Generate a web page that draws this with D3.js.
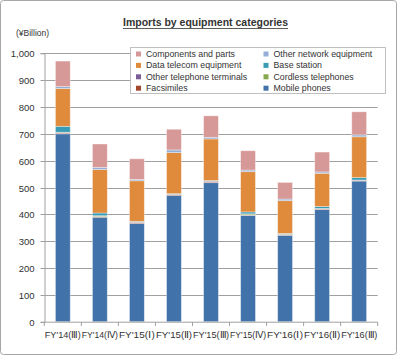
<!DOCTYPE html>
<html><head><meta charset="utf-8">
<script src="https://cdn.jsdelivr.net/npm/d3@7"></script>
<style>body{margin:0;background:#fff}svg text{font-family:"Liberation Sans",Arial,sans-serif;fill:#333}</style>
</head><body>
<svg id="c" width="397" height="355"></svg>
<script>
const categories = ["FY'14(Ⅲ)","FY'14(Ⅳ)","FY'15(Ⅰ)","FY'15(Ⅱ)","FY'15(Ⅲ)","FY'15(Ⅳ)","FY'16(Ⅰ)","FY'16(Ⅱ)","FY'16(Ⅲ)"];
const mobilePhones = [700, 389, 366, 470, 518, 396, 322, 418, 524];
const facsimiles = [3, 3, 3, 3, 3, 1, 1, 2, 2];
const cordlessTelephones = [2, 2, 1, 1, 1, 4, 3, 1, 1];
const otherTelephoneTerminals = [1, 1, 2, 1, 2, 1, 1, 1, 1];
const baseStation = [22, 10, 2, 2, 2, 7, 2, 7, 9];
const dataTelecom = [141, 162, 151, 153, 155, 150, 122, 124, 152];
const otherNetwork = [7, 8, 5, 10, 6, 6, 6, 5, 7];
const components = [95, 87, 77, 77, 80, 72, 62, 74, 86];
const yTicks = [0,100,200,300,400,500,600,700,800,900,1000];

const series = [
  {name:"Mobile phones", values:mobilePhones, color:"#4172AA"},
  {name:"Facsimiles", values:facsimiles, color:"#A3472F"},
  {name:"Cordless telephones", values:cordlessTelephones, color:"#84A84E"},
  {name:"Other telephone terminals", values:otherTelephoneTerminals, color:"#7A5C96"},
  {name:"Base station", values:baseStation, color:"#3A9BB5"},
  {name:"Data telecom equipment", values:dataTelecom, color:"#E08A3C"},
  {name:"Other network equipment", values:otherNetwork, color:"#95AFD6"},
  {name:"Components and parts", values:components, color:"#D69997"}
];
const legendOrder = ["Components and parts","Other network equipment","Data telecom equipment","Base station","Other telephone terminals","Cordless telephones","Facsimiles","Mobile phones"];

const svg = d3.select("#c");
svg.append("rect").attr("x",0.5).attr("y",0.5).attr("width",396).attr("height",354).attr("rx",3)
  .attr("fill","#fff").attr("stroke","#a6a6a6");

const x = d3.scaleBand().domain(categories).range([44.3, 377.7]).paddingInner(0.6).paddingOuter(0.3);
const y = d3.scaleLinear().domain([0,1000]).range([321.7, 53.3]);

// gridlines
svg.append("g").selectAll("line").data(yTicks.slice(1)).join("line")
  .attr("x1",44.3).attr("x2",377.7).attr("y1",d=>Math.round(y(d))+0.5).attr("y2",d=>Math.round(y(d))+0.5)
  .attr("stroke","#a0a0a0").attr("stroke-width",1);

// y axis
const yAxis = svg.append("g").attr("transform","translate(44.5,0)")
  .call(d3.axisLeft(y).tickValues(yTicks).tickFormat(d3.format(",")).tickSize(4).tickPadding(6));
yAxis.select(".domain").attr("stroke","#a0a0a0");
yAxis.selectAll(".tick line").attr("stroke","#a0a0a0");
yAxis.selectAll("text").attr("font-size","9.5px").attr("fill","#333");
yAxis.selectAll(".tick").attr("transform",d=>`translate(0,${Math.round(y(d))+0.5})`);

// stacked bars
const rows = categories.map((c,i)=>{const o={cat:c}; series.forEach(s=>o[s.name]=s.values[i]); return o;});
const stack = d3.stack().keys(series.map(s=>s.name))(rows);
svg.append("g").selectAll("g").data(stack).join("g")
  .attr("fill",(d,i)=>series[i].color)
  .selectAll("rect").data(d=>d).join("rect")
  .attr("x",d=>x(d.data.cat)).attr("width",x.bandwidth())
  .attr("y",d=>y(d[1])).attr("height",d=>y(d[0])-y(d[1]))
  .attr("stroke","#ffffff").attr("stroke-opacity",0.45).attr("stroke-width",0.8);

// x axis
const xg = svg.append("g");
xg.append("line").attr("x1",44.3).attr("x2",377.7).attr("y1",322.2).attr("y2",322.2).attr("stroke","#a0a0a0");
const bounds = d3.range(categories.length+1).map(i=>x.range()[0]+i*x.step());
xg.selectAll("line.t").data(bounds).join("line").attr("class","t")
  .attr("x1",d=>d).attr("x2",d=>d).attr("y1",322).attr("y2",326).attr("stroke","#a0a0a0");
xg.selectAll("text").data(categories).join("text")
  .attr("x",d=>x(d)+x.bandwidth()/2).attr("y",337.5).attr("text-anchor","middle")
  .attr("font-size","8.5px").attr("textLength",36).attr("lengthAdjust","spacingAndGlyphs").text(d=>d);

// title
svg.append("text").attr("x",205.5).attr("y",26).attr("text-anchor","middle")
  .attr("font-size","10.5px").attr("font-weight","bold")
  .attr("textLength",165).attr("lengthAdjust","spacingAndGlyphs").text("Imports by equipment categories");
svg.append("line").attr("x1",123).attr("x2",288).attr("y1",28.5).attr("y2",28.5).attr("stroke","#333").attr("stroke-width",0.8);
svg.append("text").attr("x",16).attr("y",36).attr("font-size","8.5px").text("(¥Billion)");

// legend
const lg = svg.append("g");
lg.append("rect").attr("x",130.5).attr("y",47.5).attr("width",255).attr("height",46).attr("fill","#fff").attr("stroke","#bfbfbf");
const colorOf = n => series.find(s=>s.name===n).color;
legendOrder.forEach((n,i)=>{
  const col = i%2, row = Math.floor(i/2);
  const lx = col===0 ? 136 : 263.5, ly = 54 + row*11.4;
  lg.append("rect").attr("x",lx).attr("y",ly-2.5).attr("width",5).attr("height",5).attr("fill",colorOf(n));
  lg.append("text").attr("x",lx+10).attr("y",ly+3).attr("font-size","8.8px").text(n);
});
</script>
</body></html>
